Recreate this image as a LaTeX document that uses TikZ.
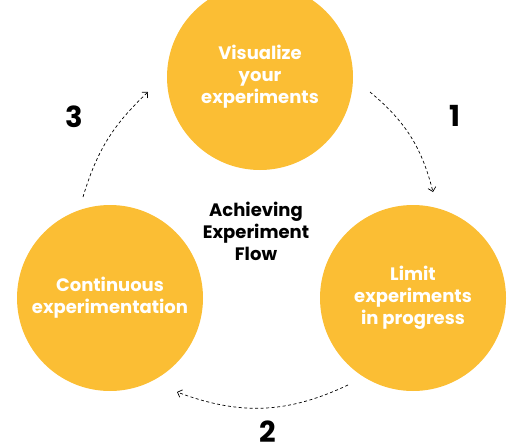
\documentclass[tikz,border=0pt]{standalone}
\usepackage{fontspec}
\setmainfont{Poppins}
\usetikzlibrary{arrows.meta}
\definecolor{flowyellow}{RGB}{251,190,52}

\begin{document}
\begin{tikzpicture}[x=1pt, y=-1pt,
  stage/.style={circle, fill=flowyellow, minimum size=186pt, inner sep=0pt,
    text=white, align=center, font=\bfseries\fontsize{18}{22}\selectfont},
  hub/.style={align=center, font=\bfseries\fontsize{18}{22}\selectfont},
  stepnum/.style={font=\bfseries\fontsize{29}{30}\selectfont},
  flow/.style={line width=0.7pt, dash pattern=on 3pt off 2.5pt,
    -{Straight Barb[length=4pt,width=8pt]}}]
  \useasboundingbox (0,0) rectangle (530,442);
  % === Circles ===
  \node[stage] (visual) at (260,77) {Visualize\\your\\experiments};
  \node[stage] (limit) at (413,298) {Limit\\experiments\\in progress};
  \node[stage] (cont) at (110,298) {Continuous\\experimentation};
  % === Centre title ===
  \node[hub] (title) at (256,231) {Achieving\\Experiment\\Flow};
  % === Step numbers ===
  \node[stepnum] (n1) at (455,116) {1};
  \node[stepnum] (n2) at (268,432) {2};
  \node[stepnum] (n3) at (74,117) {3};
  % === Dashed arrows ===
  \coordinate (a1s) at (370,92);
  \coordinate (a1e) at (433,192);
  \coordinate (a2s) at (348,385);
  \coordinate (a2e) at (177,392);
  \coordinate (a3s) at (83,197);
  \coordinate (a3e) at (148,92);
  \draw[flow] (a1s) to[bend left=18] (a1e);
  \draw[flow] (a2s) to[bend left=23] (a2e);
  \draw[flow] (a3s) to[bend left=15] (a3e);
\end{tikzpicture}
\end{document}
